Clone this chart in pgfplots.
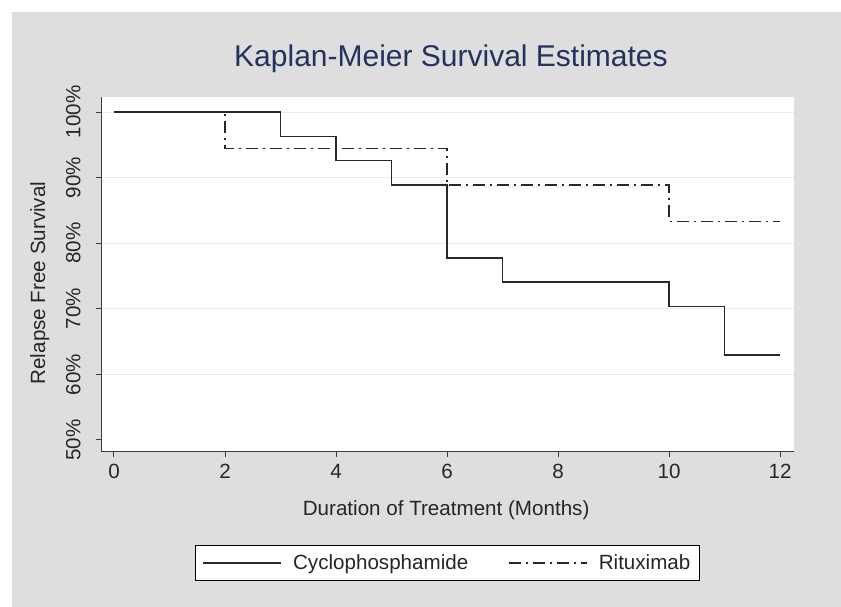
\documentclass[border=0pt]{standalone}
\usepackage{pgfplots}
\pgfplotsset{compat=1.18}
\usepackage{fontspec}
\setmainfont{Liberation Sans}
\definecolor{bggray}{RGB}{222,222,222}
\definecolor{titleblue}{RGB}{35,50,95}
\definecolor{gridgray}{RGB}{234,234,234}
\definecolor{axgray}{RGB}{60,60,60}
\definecolor{linec}{RGB}{40,40,40}
\begin{document}
\begin{tikzpicture}[x=1pt,y=1pt]
\fill[white] (0,0) rectangle (841,607);
\fill[bggray] (12,0) rectangle (841,595);
\useasboundingbox (0,0) rectangle (841,607);
\begin{axis}[
  at={(101pt,155pt)}, anchor=south west,
  scale only axis, width=693pt, height=355pt,
  xmin=-0.234, xmax=12.25, ymin=48.17, ymax=102.29,
  axis lines*=left,
  axis line style={axgray, line width=1pt},
  axis background/.style={fill=white},
  tick align=outside, major tick length=5pt,
  tick style={axgray, line width=1pt},
  xtick={0,2,...,12},
  ytick={60,70,80,90,100},
  extra y ticks={50}, extra y tick labels={50\%},
  extra y tick style={grid=none},
  ymajorgrids, grid style={gridgray, line width=1pt},
  yticklabel={\pgfmathprintnumber{\tick}\%},
  /pgf/number format/assume math mode=true,
  tick label style={font=\fontsize{20.6}{24}\selectfont, text=black!85},
  yticklabel style={xshift=-12pt, rotate=90, anchor=south},
  xticklabel style={yshift=-4pt},
  title={Kaplan-Meier Survival Estimates},
  title style={at={(axis description cs:0.505,1.07)}, anchor=base, font=\fontsize{30}{35}\selectfont, text=titleblue},
  xlabel={Duration of Treatment (Months)},
  xlabel style={at={(axis description cs:0.498,-0.1775)}, anchor=base, font=\fontsize{20.6}{24}\selectfont, text=black!85},
  ylabel={Relapse Free Survival},
  ylabel style={at={(axis description cs:-0.0808,0.476)}, anchor=base, font=\fontsize{20.6}{24}\selectfont, text=black!85},
  legend columns=2,
  legend style={at={(axis description cs:0.500,-0.3127)}, anchor=center,
    draw=black, line width=1pt, fill=white, font=\fontsize{20.6}{24}\selectfont,
    text=black!85, inner xsep=7pt, inner ysep=7pt,
    /tikz/every even column/.append style={column sep=38pt}},
  legend image code/.code={\draw[#1, line width=1.5pt] (0pt,0pt) -- (78pt,0pt);},
]
\addplot[const plot, linec, line width=1.5pt] coordinates {
  (0,100) (3,96.296) (4,92.593) (5,88.889) (6,77.778) (7,74.074) (10,70.370) (11,62.963) (12,62.963)
};
\addlegendentry{\hspace{9pt}Cyclophosphamide}
\addplot[const plot, linec, line width=1.5pt, dash pattern=on 12pt off 5pt on 2pt off 5pt] coordinates {
  (0,100) (2,94.444) (6,88.889) (10,83.333) (12,83.333)
};
\addlegendentry{\hspace{9pt}Rituximab}
\end{axis}
\end{tikzpicture}
\end{document}
